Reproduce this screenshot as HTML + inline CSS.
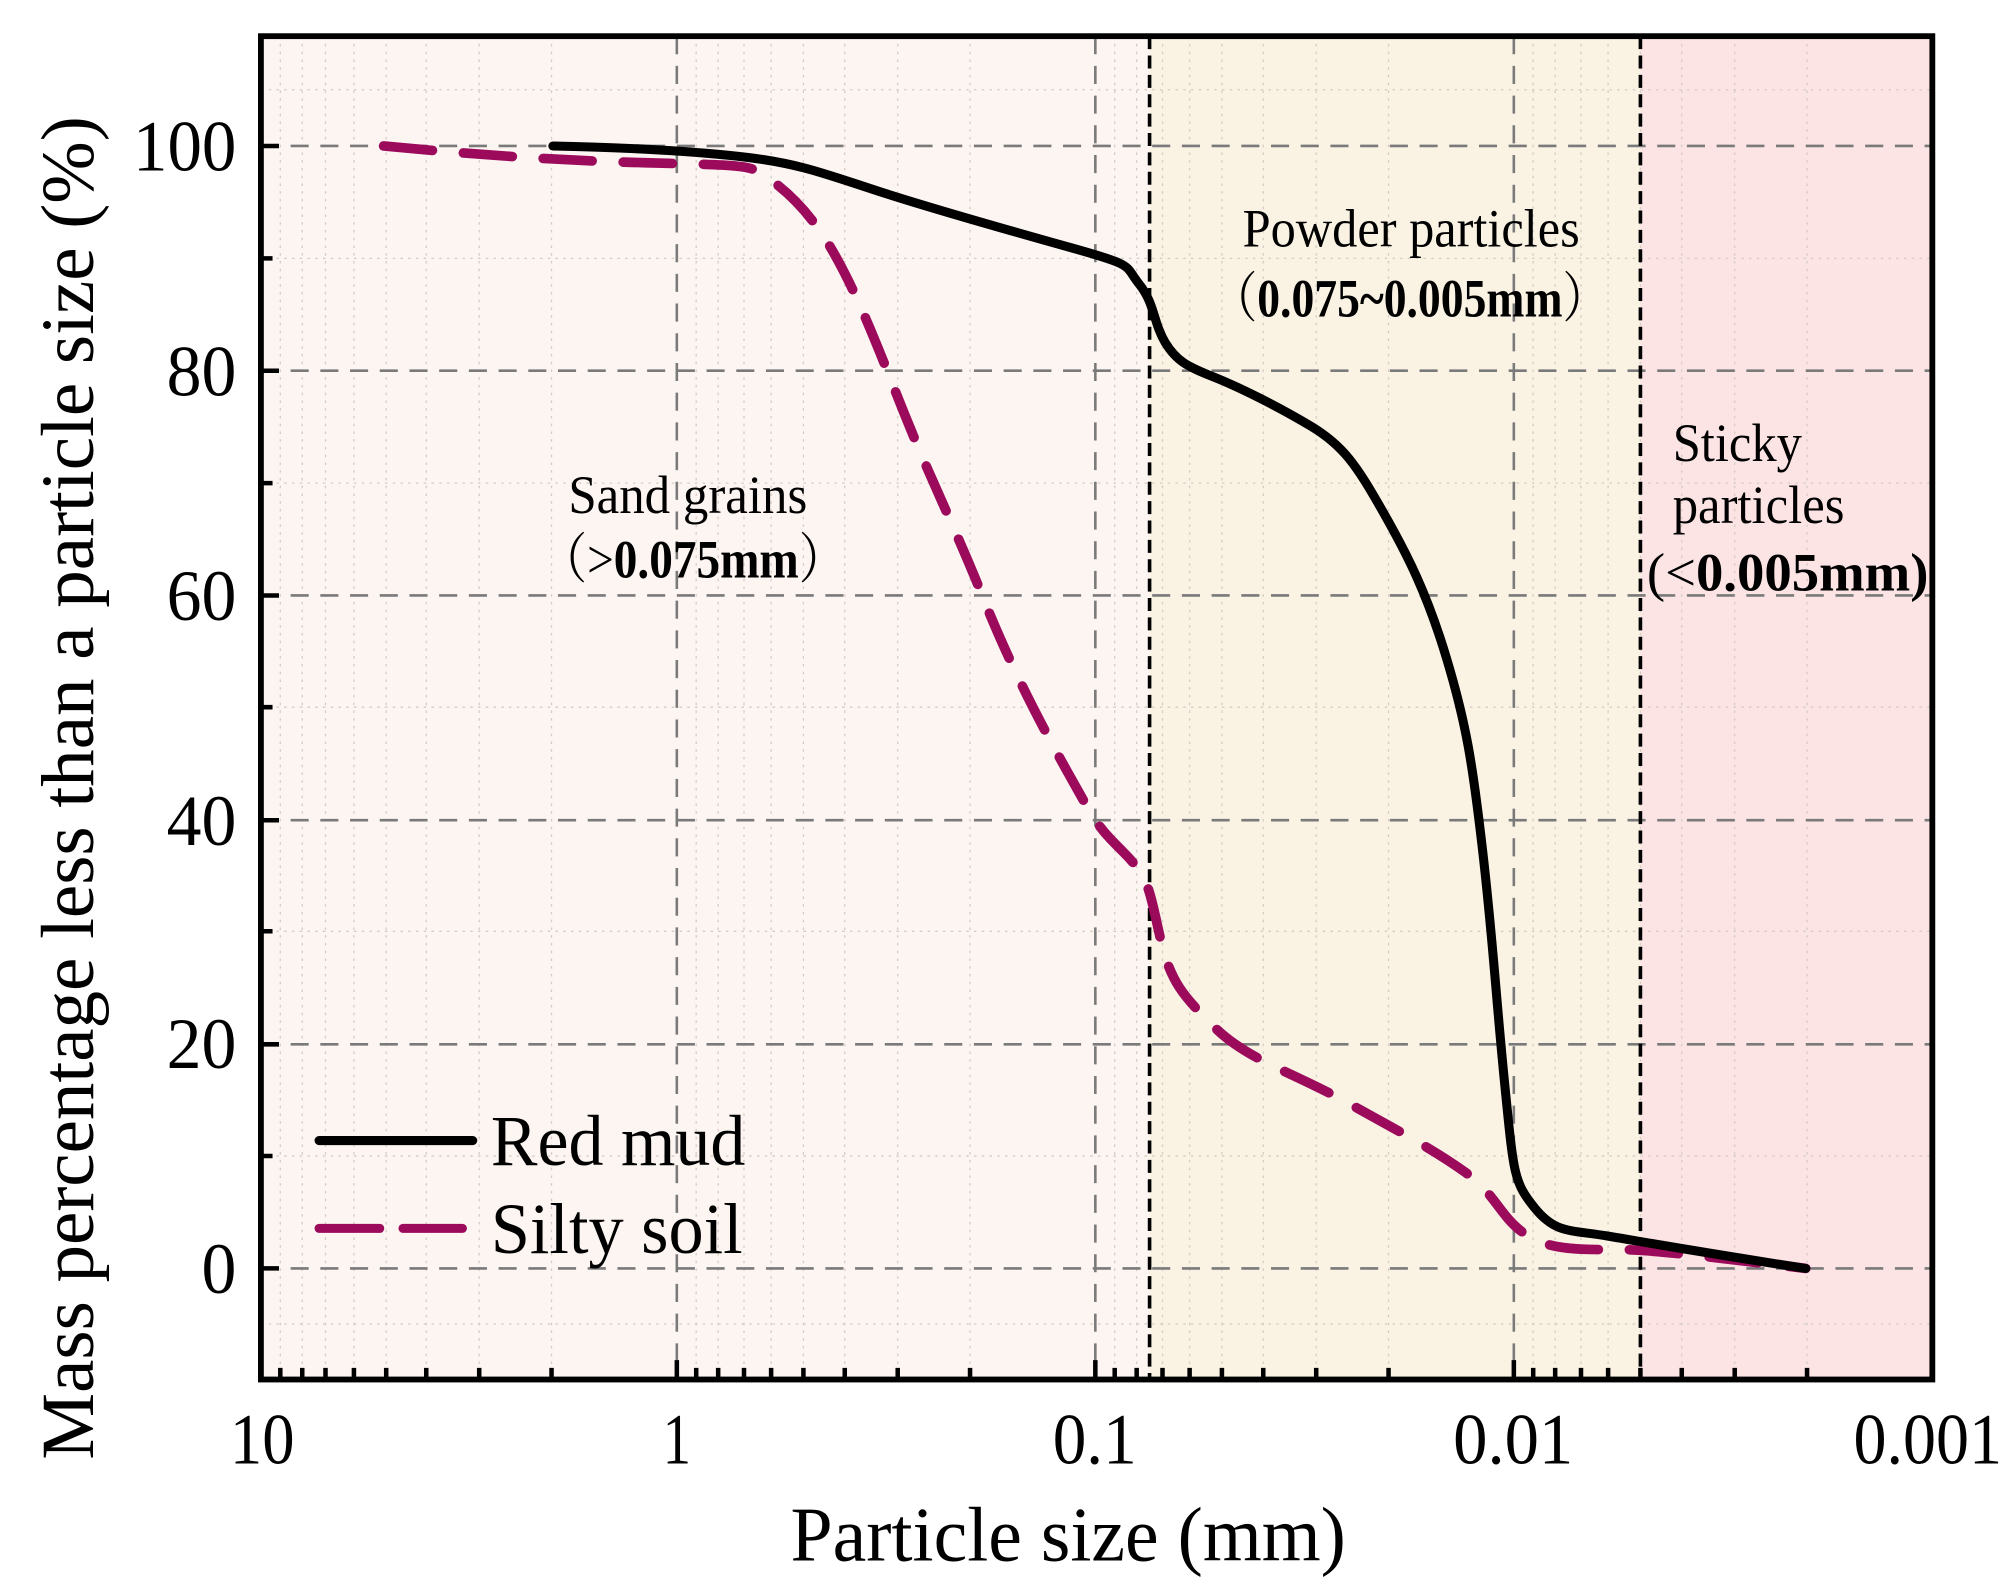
<!DOCTYPE html>
<html><head><meta charset="utf-8"><style>
html,body{margin:0;padding:0;background:#fff;}
svg{display:block;}
text{font-family:"Liberation Serif","Noto Serif CJK SC",serif;fill:#000;}
</style></head><body>
<svg width="2015" height="1596" viewBox="0 0 1560 1235.6" xmlns="http://www.w3.org/2000/svg">
<rect x="202" y="28" width="688" height="1040" fill="#fdf5f1"/>
<rect x="890" y="28" width="380" height="1040" fill="#faf3e4"/>
<rect x="1270" y="28" width="226" height="1040" fill="#fce4e5"/>
<g stroke="#d5ccc4" stroke-width="1" stroke-dasharray="2,4" fill="none">
<path d="M202 69.5H1496M202 200H1496M202 374H1496M202 547.5H1496M202 721H1496M202 895H1496M202 1025H1496"/>
<path d="M217 28V1068M234 28V1068M252 28V1068M274 28V1068M299 28V1068M330 28V1068M371 28V1068M427 28V1068
M539 28V1068M556 28V1068M576 28V1068M597 28V1068M622 28V1068M654 28V1068M695 28V1068M751 28V1068
M863 28V1068M880 28V1068M900 28V1068M921 28V1068M946 28V1068M978 28V1068M1019 28V1068M1075 28V1068
M1187 28V1068M1204 28V1068M1224 28V1068M1245 28V1068M1270 28V1068M1302 28V1068M1343 28V1068M1399 28V1068"/>
</g>
<g stroke="#7a7a7a" stroke-width="2" stroke-dasharray="14,9" fill="none">
<path d="M202 113H1496M202 287H1496M202 461H1496M202 635H1496M202 808.5H1496M202 982H1496"/>
<path d="M524 28V1068M848 28V1068M1172 28V1068"/>
</g>
<g stroke="#000" stroke-width="2.8" stroke-dasharray="10,5" fill="none">
<path d="M890 28V1068M1270 28V1068"/>
</g>
<path d="M297 113 C 350 118, 420 124, 500 126 S 580 128, 592 136 S 625 160, 645 195 S 680 270, 700 320 S 740 410, 760 460 S 800 550, 825 595 S 850 640, 870 660 S 890 690, 898 725 S 915 770, 940 795 S 1000 830, 1040 852 S 1110 890, 1135 908 S 1162 945, 1185 958 S 1240 966, 1270 968 S 1340 975, 1398 982" fill="none" stroke="#9c0a5c" stroke-width="7.5" stroke-dasharray="38,24" stroke-linecap="round"/>
<path d="M428 113 C 480 114, 540 117, 580 122 S 640 135, 680 148 S 780 178, 830 192 S 870 205, 882 220 S 893 250, 902 265 S 920 284, 940 292 S 990 315, 1015 330 S 1050 360, 1070 395 S 1105 460, 1120 510 S 1140 590, 1148 660 S 1158 770, 1165 840 S 1172 915, 1188 935 S 1215 952, 1245 957 S 1320 970, 1398 982" fill="none" stroke="#000" stroke-width="7" stroke-linecap="round"/>
<rect x="202" y="28" width="1294" height="1040" fill="none" stroke="#000" stroke-width="4.5"/>
<g stroke="#000" stroke-width="3.5" fill="none">
<path d="M202 113h14M202 287h14M202 461h14M202 635h14M202 808.5h14M202 982h14"/>
<path d="M202 200h9M202 374h9M202 547.5h9M202 721h9M202 895h9M202 1068h9"/>
<path d="M524 1068v-15M848 1068v-15M1172 1068v-15"/>
<path d="M217 1068v-9M234 1068v-9M252 1068v-9M274 1068v-9M299 1068v-9M330 1068v-9M371 1068v-9M427 1068v-9
M539 1068v-9M556 1068v-9M576 1068v-9M597 1068v-9M622 1068v-9M654 1068v-9M695 1068v-9M751 1068v-9
M863 1068v-9M880 1068v-9M900 1068v-9M921 1068v-9M946 1068v-9M978 1068v-9M1019 1068v-9M1075 1068v-9
M1187 1068v-9M1204 1068v-9M1224 1068v-9M1245 1068v-9M1270 1068v-9M1302 1068v-9M1343 1068v-9M1399 1068v-9"/>
</g>
<g font-size="56">
<text x="103" y="132" textLength="80" lengthAdjust="spacingAndGlyphs">100</text>
<text x="129" y="306" textLength="54" lengthAdjust="spacingAndGlyphs">80</text>
<text x="129" y="480" textLength="54" lengthAdjust="spacingAndGlyphs">60</text>
<text x="129" y="654" textLength="54" lengthAdjust="spacingAndGlyphs">40</text>
<text x="129" y="827" textLength="54" lengthAdjust="spacingAndGlyphs">20</text>
<text x="156" y="1001" textLength="27" lengthAdjust="spacingAndGlyphs">0</text>
<text x="178" y="1133" textLength="50" lengthAdjust="spacingAndGlyphs">10</text>
<text x="513" y="1133" textLength="22" lengthAdjust="spacingAndGlyphs">1</text>
<text x="815" y="1133" textLength="65" lengthAdjust="spacingAndGlyphs">0.1</text>
<text x="1125" y="1133" textLength="93" lengthAdjust="spacingAndGlyphs">0.01</text>
<text x="1435" y="1133" textLength="115" lengthAdjust="spacingAndGlyphs">0.001</text>
</g>
<text x="612" y="1208" font-size="60" textLength="430" lengthAdjust="spacingAndGlyphs">Particle size (mm)</text>
<text transform="translate(72,1130) rotate(-90)" font-size="58" textLength="1040" lengthAdjust="spacingAndGlyphs">Mass percentage less than a particle size (%)</text>
<text x="440" y="397" font-size="42" textLength="185" lengthAdjust="spacingAndGlyphs">Sand grains</text>
<text x="418" y="447" font-size="42" textLength="237" lengthAdjust="spacingAndGlyphs">（&gt;<tspan font-weight="bold">0.075mm</tspan>）</text>
<text x="962" y="191" font-size="42" textLength="261" lengthAdjust="spacingAndGlyphs">Powder particles</text>
<text x="938" y="245" font-size="42" textLength="307" lengthAdjust="spacingAndGlyphs">（<tspan font-weight="bold">0.075~0.005mm</tspan>）</text>
<text x="1295" y="357" font-size="42" textLength="100" lengthAdjust="spacingAndGlyphs">Sticky</text>
<text x="1295" y="405" font-size="42" textLength="133" lengthAdjust="spacingAndGlyphs">particles</text>
<text x="1275" y="457" font-size="42" textLength="218" lengthAdjust="spacingAndGlyphs">(&lt;<tspan font-weight="bold">0.005mm)</tspan></text>
<path d="M247 883H366" stroke="#000" stroke-width="7" stroke-linecap="round"/>
<path d="M247 951H294M312 951H358" stroke="#9c0a5c" stroke-width="7" stroke-linecap="round"/>
<text x="380" y="902" font-size="56" textLength="197" lengthAdjust="spacingAndGlyphs">Red mud</text>
<text x="380" y="970" font-size="56" textLength="195" lengthAdjust="spacingAndGlyphs">Silty soil</text>
</svg>
</body></html>
